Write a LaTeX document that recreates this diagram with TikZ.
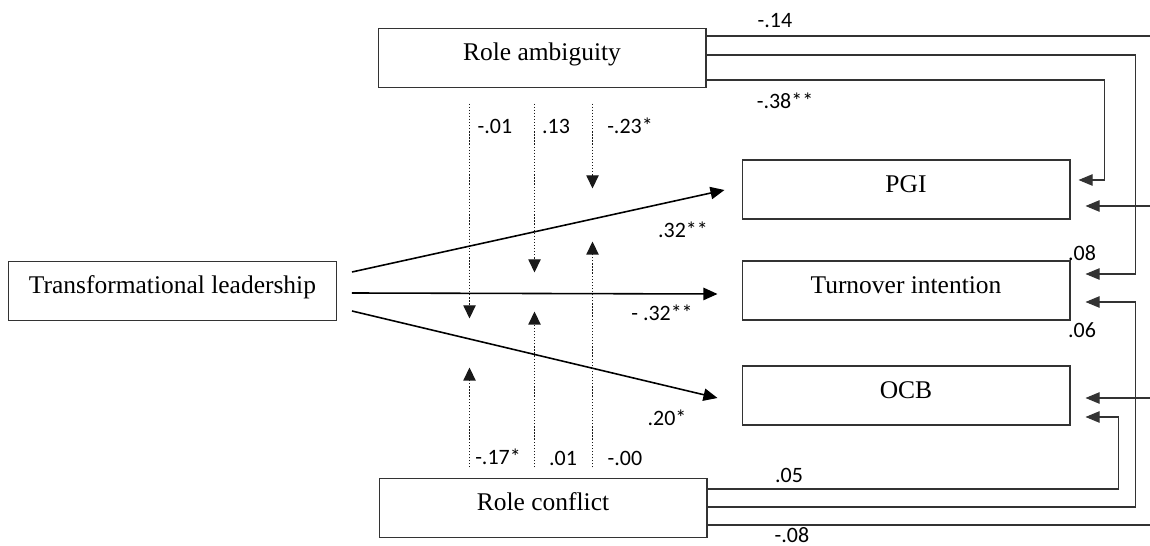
\documentclass[tikz,border=0pt]{standalone}
\usepackage{fontspec}
\setmainfont{Liberation Serif}
\newfontfamily\numfont{Carlito}
\usetikzlibrary{arrows.meta}

\begin{document}
\begin{tikzpicture}[
    x=0.02cm, y=-0.02cm,
    box/.style={draw=black!80, line width=0.6pt, minimum width=6.56cm,
      minimum height=1.18cm, text height=10pt, text depth=7pt,
      font=\fontsize{14.5}{17}\selectfont},
    lbl/.style={inner sep=0pt, font=\numfont\fontsize{12.5}{14}\selectfont},
    path/.style={line width=0.9pt, -{Triangle[length=8pt,width=7pt]}},
    link/.style={draw=black!80, line width=0.6pt},
    linkarr/.style={link, -{Triangle[length=8pt,width=6.5pt]}},
    dotarr/.style={draw=black!90, line width=0.75pt, densely dotted,
      -{Triangle[length=7.5pt,width=7pt]}}
  ]
  \useasboundingbox (0,0) rectangle (1150,546);

  % boxes
  \node[box] (ra) at (542,58) {Role ambiguity};
  \node[box] (tl) at (172.5,291) {Transformational leadership};
  \node[box] (pgi) at (906,189.5) {PGI};
  \node[box] (turn) at (906,290.5) {Turnover intention};
  \node[box] (ocb) at (906,395.5) {OCB};
  \node[box] (rc) at (543,508) {Role conflict};

  % main paths
  \draw[path] ([shift={(15,-19)}]tl.east) -- ([shift={(-17,0.5)}]pgi.west);
  \draw[path] ([shift={(15,2)}]tl.east) -- ([shift={(-24,3.5)}]turn.west);
  \draw[path] ([shift={(15,20)}]tl.east) -- ([shift={(-24,2.5)}]ocb.west);

  % moderating paths
  \draw[dotarr] ([shift={(92,15.5)}]ra.south west) -- ++(0,215);
  \draw[dotarr] ([shift={(157,15.5)}]ra.south west) -- ++(0,169);
  \draw[dotarr] ([shift={(215,15.5)}]ra.south west) -- ++(0,85);
  \draw[dotarr] ([shift={(91,-10.5)}]rc.north west) -- ++(0,-100);
  \draw[dotarr] ([shift={(156,-10.5)}]rc.north west) -- ++(0,-156);
  \draw[dotarr] ([shift={(214,-10.5)}]rc.north west) -- ++(0,-226);

  % direct paths of the moderators
  \draw[link] ([shift={(0,-22)}]ra.east) -- ++(444,0);
  \draw[linkarr] ([shift={(0,-3)}]ra.east) -| ([shift={(65,-16.5)}]turn.east) -- ++(-50,0);
  \draw[linkarr] ([shift={(0,22)}]ra.east) -| ([shift={(34,-9.5)}]pgi.east) -- ++(-26,0);
  \draw[linkarr] ([shift={(80,16.5)}]pgi.east) -- ++(-65,0);
  \draw[linkarr] ([shift={(80,2.5)}]ocb.east) -- ++(-65,0);
  \draw[linkarr] ([shift={(0,-19)}]rc.east) -| ([shift={(48,21.5)}]ocb.east) -- ++(-33,0);
  \draw[linkarr] ([shift={(0,-1)}]rc.east) -| ([shift={(65,11.5)}]turn.east) -- ++(-50,0);
  \draw[link] ([shift={(0,17)}]rc.east) -- ++(443,0);

  % coefficients
  \node[lbl] (c14) at (775,21) {-.14};
  \node[lbl] (c38) at (785,101) {-.38**};
  \node[lbl] (c32a) at (683,230) {.32**};
  \node[lbl] (c32b) at (662,313) {- .32**};
  \node[lbl] (c20) at (667,418) {.20*};
  \node[lbl] (c08a) at (1082,253) {.08};
  \node[lbl] (c06) at (1082,330) {.06};
  \node[lbl] (c05) at (789,475) {.05};
  \node[lbl] (c08b) at (792,535) {-.08};
  \node[lbl] (m1) at (495,126) {-.01};
  \node[lbl] (m2) at (556,126) {.13};
  \node[lbl] (m3) at (630,126) {-.23*};
  \node[lbl] (m4) at (498,457) {-.17*};
  \node[lbl] (m5) at (563,458) {.01};
  \node[lbl] (m6) at (625,458) {-.00};
\end{tikzpicture}
\end{document}
